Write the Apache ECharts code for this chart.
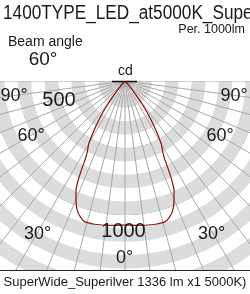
<!DOCTYPE html>
<html>
<head>
<meta charset="utf-8">
<script src="https://cdn.jsdelivr.net/npm/echarts@6/dist/echarts.min.js"></script>
<style>
html, body { margin: 0; padding: 0; background: #fff; }
#main { width: 250px; height: 294px; }
</style>
</head>
<body>
<div id="main"></div>
<script>
// 配光曲线: 角度(度, 0 = 正下方) 与 光强 cd, 左右对称
var angles = [0, 4, 8, 12, 16, 18, 20, 22, 24, 25, 26, 27, 28, 30, 32, 34, 36, 38, 40, 42, 44, 46];
var intensity = [1075, 1080, 1087, 1093, 1092, 1070, 1035, 975, 900, 840, 750, 650, 600, 540, 440, 340, 245, 145, 70, 25, 5, 0];

// 刻度文字
var radiusTicks = ['500', '1000'];
var angleTicks = ['90°', '60°', '30°', '0°'];

var titleText = '1400TYPE_LED_at5000K_SuperWide_Superilver';
var perText = 'Per. 1000lm';
var beamText = 'Beam angle';
var beamValue = '60°';
var unitText = 'cd';
var footText = 'SuperWide_Superilver 1336 lm x1 5000K)';

// 组装曲线: 从一侧经过 0° 到另一侧
var curve = [];
for (var i = angles.length - 1; i >= 0; i--) {
    curve.push([intensity[i], angles[i]]);
}
for (var j = 1; j < angles.length; j++) {
    curve.push([intensity[j], 360 - angles[j]]);
}

var font = "'Liberation Sans', Arial, sans-serif";

function txt(s, x, y, size, align, extra) {
    var el = {
        type: 'text',
        x: x,
        y: y,
        z: 100,
        style: {
            text: s,
            x: 0,
            y: 0,
            fontSize: size,
            fontFamily: font,
            fill: '#1a1a1a',
            align: align,
            textAlign: align,
            verticalAlign: 'middle',
            textVerticalAlign: 'middle'
        }
    };
    if (extra) {
        for (var k in extra) el[k] = extra[k];
    }
    return el;
}

var myChart = echarts.init(document.getElementById('main'));

var option = {
    animation: false,
    backgroundColor: '#ffffff',
    polar: {
        center: [125, 81],
        radius: [0, 227.8]
    },
    radiusAxis: {
        type: 'value',
        min: 0,
        max: 1700,
        interval: 100,
        axisLine: { show: false },
        axisTick: { show: false },
        axisLabel: { show: false },
        splitLine: {
            show: true,
            lineStyle: {
                // 只在 500 的倍数处画深色圆
                color: ['#555555', 'rgba(0,0,0,0)', 'rgba(0,0,0,0)', 'rgba(0,0,0,0)', 'rgba(0,0,0,0)'],
                width: 1
            }
        },
        splitArea: {
            show: true,
            areaStyle: {
                color: ['#ffffff', '#dcdcdc']
            }
        }
    },
    angleAxis: {
        type: 'value',
        min: 0,
        max: 360,
        interval: 7.5,
        startAngle: 270,
        clockwise: true,
        axisLine: { show: false },
        axisTick: { show: false },
        axisLabel: { show: false },
        splitLine: {
            show: true,
            lineStyle: { color: '#a8a8a8', width: 1 }
        }
    },
    series: [
        {
            type: 'line',
            coordinateSystem: 'polar',
            data: curve,
            symbol: 'none',
            smooth: 0.2,
            z: 5,
            lineStyle: { color: '#8b1010', width: 1.2 }
        }
    ],
    graphic: [
        { type: 'rect', z: 90, shape: { x: 0, y: 0, width: 250, height: 81 }, style: { fill: '#ffffff' } },
        { type: 'rect', z: 90, shape: { x: 0, y: 270, width: 250, height: 24 }, style: { fill: '#ffffff' } },
        { type: 'line', z: 95, shape: { x1: 0, y1: 270.5, x2: 250, y2: 270.5 }, style: { stroke: '#222', lineWidth: 1 } },
        { type: 'line', z: 95, shape: { x1: 112, y1: 81.5, x2: 137, y2: 81.5 }, style: { stroke: '#111', lineWidth: 1.5 } },
        txt(titleText, 3, 13, 20, 'left', { scaleX: 0.86 }),
        txt(perText, 245, 29.5, 12.5, 'right'),
        txt(beamText, 8, 42, 14, 'left'),
        txt(beamValue, 43, 59.5, 19, 'center'),
        txt(unitText, 125.5, 71, 14, 'center'),
        txt(radiusTicks[0], 59, 100, 20, 'center'),
        txt(radiusTicks[1], 123.5, 231, 20, 'center'),
        txt(angleTicks[0], 14, 96, 18, 'center'),
        txt(angleTicks[0], 234, 96, 18, 'center'),
        txt(angleTicks[1], 31, 136.5, 18, 'center'),
        txt(angleTicks[1], 220, 136.5, 18, 'center'),
        txt(angleTicks[2], 37.5, 234.5, 18, 'center'),
        txt(angleTicks[2], 211.5, 234.5, 18, 'center'),
        txt(angleTicks[3], 124.5, 258, 18, 'center'),
        txt(footText, 125, 282.5, 13, 'center')
    ]
};

myChart.setOption(option);
</script>
</body>
</html>
